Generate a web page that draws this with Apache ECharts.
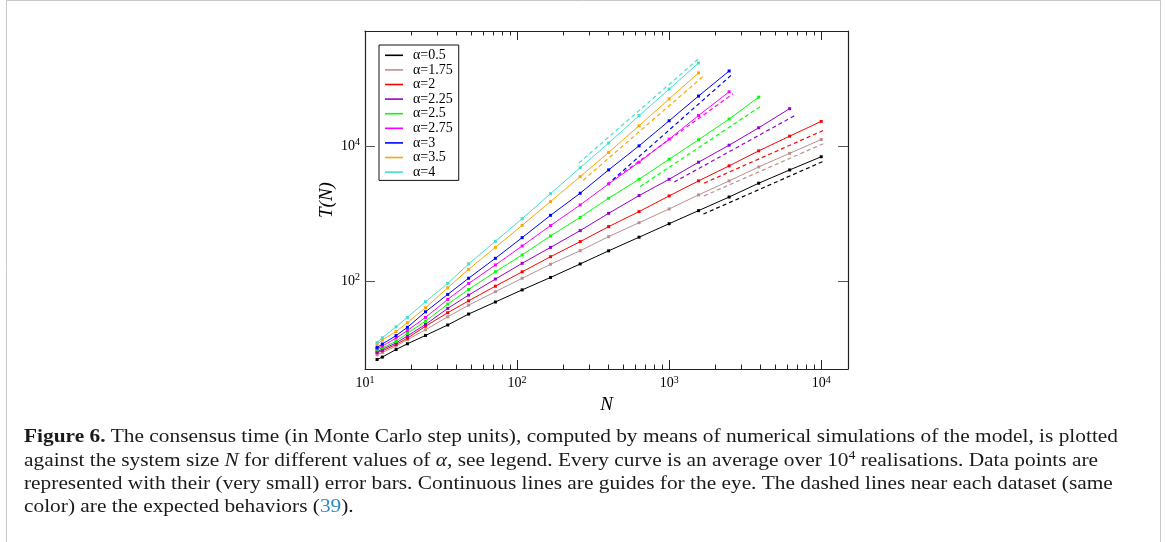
<!DOCTYPE html>
<html>
<head>
<meta charset="utf-8">
<title>Consensus time vs system size</title>
<script src="https://cdn.jsdelivr.net/npm/echarts@6/dist/echarts.min.js"></script>
<style>
  html, body { margin: 0; padding: 0; background: #ffffff; }
  #chart { width: 1166px; height: 542px; }
</style>
</head>
<body>
<div id="chart"></div>
<script>
// System sizes N shared by all datasets (each dataset uses the first k of them)
const sizesN = [12, 13, 16, 19, 25, 35, 48, 72, 108, 166, 260, 400, 634, 1000, 1560, 2480, 3880, 6200, 10000];

// Consensus time T(N) for each alpha
const times05  = [6.9, 7.5, 9.7, 11.8, 15.7, 22.4, 32.5, 49, 74, 113, 179, 280, 445, 705, 1100, 1750, 2800, 4400, 6900];
const times175 = [8.1, 8.8, 10.9, 13.6, 19.0, 29.6, 44, 69.5, 110, 177, 281, 454, 730, 1165, 1880, 3030, 4880, 7750, 12400];
const times2   = [8.7, 9.3, 11.5, 14.3, 21.5, 34.0, 51, 84, 137, 229, 383, 638, 1065, 1817, 3030, 5055, 8430, 13900, 23000];
const times225 = [9.0, 9.8, 12.1, 15.4, 22.8, 39.4, 62, 107, 183, 315, 557, 1005, 1837, 3207, 5728, 10230, 18490, 35500];
const times25  = [9.6, 10.3, 12.8, 16.9, 25.5, 45.6, 75, 137, 243, 464, 877, 1679, 3207, 6345, 12300, 24900, 52500];
const times275 = [10.0, 10.9, 14.3, 18.5, 29.0, 53.5, 92, 173, 330, 661, 1337, 2735, 5728, 12560, 28130, 63000];
const times3   = [10.4, 11.7, 15.6, 20.7, 35.1, 63.5, 110, 217, 439, 939, 1990, 4410, 10000, 23500, 54500, 128000];
const times35  = [11.5, 13.4, 17.9, 24.2, 40.3, 79.6, 149, 315, 668, 1497, 3500, 8000, 19800, 49500, 120000];
const times4   = [12.3, 14.5, 21.0, 29.0, 49.4, 92.3, 179, 387, 838, 1960, 4750, 11000, 28000, 69000, 168000];

// Expected behaviours (dashed guides): [N, T] end points
const expected05  = [[1680, 980], [10400, 5950]];
const expected175 = [[1700, 1820], [10450, 10900]];
const expected2   = [[1700, 2810], [10450, 17100]];
const expected225 = [[1080, 2920], [6750, 28300]];
const expected25  = [[645, 2500], [4000, 38500]];
const expected275 = [[390, 2700], [2630, 58900]];
const expected3   = [[425, 3130], [2570, 112000]];
const expected35  = [[272, 3100], [1700, 110000]];
const expected4   = [[255, 5580], [1600, 204000]];

const alphaLabels = ['α=0.5', 'α=1.75', 'α=2', 'α=2.25', 'α=2.5', 'α=2.75', 'α=3', 'α=3.5', 'α=4'];

// Tick positions
const majorTicksX = [10, 100, 1000, 10000];
const majorTicksY = [100, 10000];
const minorTicksX = [];
for (let d = 10; d <= 1000; d *= 10) {
  for (let m = 2; m <= 9; m++) minorTicksX.push(m * d);
}

const measured = [times05, times175, times2, times225, times25, times275, times3, times35, times4];
const expected = [expected05, expected175, expected2, expected225, expected25, expected275, expected3, expected35, expected4];
const palette = ['#000000', '#bc8f8f', '#ff0000', '#9400d3', '#00ff00', '#ff00ff', '#0000ff', '#ffa500', '#40e0d0'];

const serif = '"Liberation Serif", "DejaVu Serif", serif';
const frameLine = { show: true, onZero: false, lineStyle: { color: '#222', width: 1.2 } };
const powerLabel = v => '{b|10}{s|' + Math.round(Math.log10(v)) + '}';
const powerRich = {
  b: { fontFamily: serif, fontSize: 14, color: '#000', lineHeight: 17 },
  s: { fontFamily: serif, fontSize: 10, color: '#000', lineHeight: 10, verticalAlign: 'top' }
};

function logAxis(extra) {
  return Object.assign({
    type: 'log', logBase: 10,
    splitLine: { show: false },
    minorTick: { show: false },
    minorSplitLine: { show: false },
    axisLabel: { show: false },
    axisTick: { show: false },
    axisLine: { show: false }
  }, extra);
}

const xMin = 10, xMax = 15000, yMin = 5, yMax = 500000;

const xAxes = [
  logAxis({
    position: 'bottom', min: xMin, max: xMax,
    axisLine: frameLine,
    axisTick: { show: true, inside: true, length: 9, customValues: majorTicksX, lineStyle: { color: '#222', width: 1 } },
    axisLabel: { show: true, customValues: majorTicksX, formatter: powerLabel, rich: powerRich, margin: 6, fontSize: 14 },
    name: 'N', nameLocation: 'middle', nameGap: 19,
    nameTextStyle: { fontFamily: serif, fontStyle: 'italic', fontSize: 19, color: '#000' }
  }),
  logAxis({
    position: 'bottom', min: xMin, max: xMax,
    axisTick: { show: true, inside: true, length: 4.5, customValues: minorTicksX, lineStyle: { color: '#222', width: 1 } }
  }),
  logAxis({
    position: 'top', min: xMin, max: xMax,
    axisLine: frameLine,
    axisTick: { show: true, inside: true, length: 9, customValues: majorTicksX, lineStyle: { color: '#222', width: 1 } }
  }),
  logAxis({
    position: 'top', min: xMin, max: xMax,
    axisTick: { show: true, inside: true, length: 4.5, customValues: minorTicksX, lineStyle: { color: '#222', width: 1 } }
  })
];

const yAxes = [
  logAxis({
    position: 'left', min: yMin, max: yMax,
    axisLine: frameLine,
    axisTick: { show: true, inside: true, length: 10, customValues: majorTicksY, lineStyle: { color: '#555', width: 1 } },
    axisLabel: { show: true, customValues: majorTicksY, formatter: powerLabel, rich: powerRich, margin: 5, fontSize: 14 },
    name: 'T(N)', nameLocation: 'middle', nameGap: 29, nameRotate: 90,
    nameTextStyle: { fontFamily: serif, fontStyle: 'italic', fontSize: 19, color: '#000' }
  }),
  logAxis({
    position: 'right', min: yMin, max: yMax,
    axisLine: frameLine,
    axisTick: { show: true, inside: true, length: 10, customValues: majorTicksY, lineStyle: { color: '#555', width: 1 } }
  })
];

const series = [];
expected.forEach((pts, i) => {
  series.push({
    type: 'line', name: alphaLabels[i] + ' expected',
    data: pts, xAxisIndex: 0, yAxisIndex: 0,
    symbol: 'none', silent: true, z: 2,
    lineStyle: { color: palette[i], width: 1.2, type: [4, 3] }
  });
});
measured.forEach((vals, i) => {
  series.push({
    type: 'line', name: alphaLabels[i],
    data: vals.map((t, k) => [sizesN[k], t]),
    xAxisIndex: 0, yAxisIndex: 0,
    symbol: 'rect', symbolSize: 3, showSymbol: true, silent: true, z: 3,
    lineStyle: { color: palette[i], width: 1 },
    itemStyle: { color: palette[i] }
  });
});

// Caption under the plot
const captionLines = [
  '{b|Figure 6.} The consensus time (in Monte Carlo step units), computed by means of numerical simulations of the model, is plotted',
  'against the system size {i|N} for different values of {i|α}, see legend. Every curve is an average over 10{s|4} realisations. Data points are',
  'represented with their (very small) error bars. Continuous lines are guides for the eye. The dashed lines near each dataset (same',
  'color) are the expected behaviors ({a|39}).'
];
const captionSize = 18.5;
const captionX = 24, captionTop = 437.5, captionStep = 23.3, captionWidth = 1094;

const measureCtx = document.createElement('canvas').getContext('2d');
function textWidth(str, weight) {
  measureCtx.font = (weight || '') + ' ' + captionSize + 'px ' + serif;
  return measureCtx.measureText(str).width;
}
const firstLineWidth = textWidth('Figure 6.', 'bold') +
  textWidth(' The consensus time (in Monte Carlo step units), computed by means of numerical simulations of the model, is plotted');
const captionScale = captionWidth / firstLineWidth;

const captionRich = {
  b: { fontWeight: 'bold', fontFamily: serif, fontSize: captionSize, fill: '#1a1a1a', lineHeight: 22 },
  i: { fontStyle: 'italic', fontFamily: serif, fontSize: captionSize, fill: '#1a1a1a', lineHeight: 22 },
  s: { fontFamily: serif, fontSize: 12, fill: '#1a1a1a', lineHeight: 12, verticalAlign: 'top' },
  a: { fontFamily: serif, fontSize: captionSize, fill: '#2a8cc8', lineHeight: 22 }
};

const graphics = [{
  type: 'rect', silent: true,
  shape: { x: 6.5, y: 0.5, width: 1154, height: 600 },
  style: { fill: 'none', stroke: '#c8c8c8', lineWidth: 1 }
}];
captionLines.forEach((line, k) => {
  graphics.push({
    type: 'text', silent: true,
    x: captionX, y: captionTop + k * captionStep,
    scaleX: captionScale, scaleY: 1,
    style: {
      text: line, x: 0, y: 0,
      font: captionSize + 'px ' + serif,
      fill: '#1a1a1a',
      verticalAlign: 'middle', align: 'left',
      lineHeight: 22,
      rich: captionRich
    }
  });
});

const chart = echarts.init(document.getElementById('chart'), null, { renderer: 'canvas' });
chart.setOption({
  animation: false,
  backgroundColor: '#ffffff',
  grid: { left: 365, right: 318, top: 31, bottom: 173, containLabel: false },
  xAxis: xAxes,
  yAxis: yAxes,
  legend: {
    data: alphaLabels,
    orient: 'vertical',
    left: 379, top: 45,
    icon: 'rect', itemWidth: 18, itemHeight: 1.6, itemGap: 0,
    padding: [3, 6, 1, 6],
    borderColor: '#111', borderWidth: 1,
    selectedMode: false,
    textStyle: { fontFamily: serif, fontSize: 14, color: '#000', lineHeight: 14.6, padding: [0, 0, 0, 5] }
  },
  series: series,
  graphic: graphics
});
</script>
</body>
</html>
